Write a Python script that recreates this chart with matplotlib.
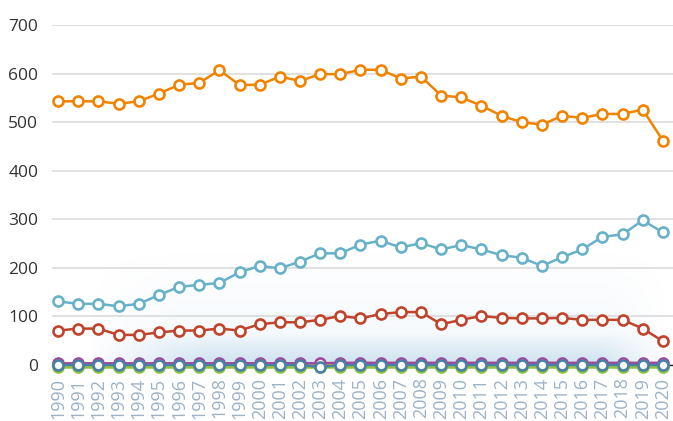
import numpy as np
import matplotlib
matplotlib.use("Agg")
import matplotlib.pyplot as plt
from matplotlib.colors import to_rgb

years = list(range(1990, 2021))

orange = [543, 543, 543, 538, 543, 559, 577, 581, 607, 577, 577, 594, 585, 599, 599,
          608, 608, 590, 594, 555, 551, 534, 513, 500, 495, 513, 509, 517, 517, 526, 462]
cyan = [131, 126, 126, 121, 126, 144, 161, 165, 169, 191, 204, 199, 213, 230, 230,
        248, 256, 242, 251, 238, 247, 238, 226, 221, 204, 222, 238, 264, 269, 298, 273]
red = [71, 75, 75, 62, 62, 67, 71, 71, 75, 71, 84, 88, 88, 93, 101,
       96, 105, 109, 109, 84, 93, 101, 97, 96, 96, 97, 93, 93, 93, 75, 49]
purple = [3.5] * 14 + [4.5] * 17
green = [-4] * 31
yellow = [-1] * 31
steel = [0] * 13 + [-4] + [0] * 17

ytick_values = [0, 100, 200, 300, 400, 500, 600, 700]

series = [
    (yellow, "#f2c200"),
    (green, "#8cc43c"),
    (purple, "#a24a9a"),
    (steel, "#4a7fa6"),
    (red, "#c0432b"),
    (cyan, "#67b1c9"),
    (orange, "#f08300"),
]

plt.rcParams["font.family"] = ["Open Sans", "DejaVu Sans"]

fig = plt.figure(figsize=(6.73, 4.21), dpi=100)
ax = fig.add_axes([0.0773, 0.133, 0.9227, 0.8074])
ax.set_xlim(1989.7, 2020.5)
ax.set_ylim(0, 700)

# soft blue backdrop behind the lower series
ny, nx = 120, 300
gx = np.linspace(0, 1, nx)
gy = np.linspace(0, 1, ny)
X, Y = np.meshgrid(gx, gy)
band = np.clip((0.95 - Y) / 0.95, 0, 1) ** 1.3
edge = np.clip(np.minimum(X / 0.15, (1 - X) / 0.1), 0, 1)
alpha = 0.13 * band * edge
low = np.clip((0.24 - Y) / 0.24, 0, 1) ** 0.7 * np.clip(np.minimum(X / 0.2, (1 - X) / 0.12), 0, 1)
alpha = np.clip(alpha + 0.30 * low, 0, 1)
img = np.zeros((ny, nx, 4))
img[..., :3] = to_rgb("#8fbfdc")
img[..., 3] = alpha
ax.imshow(img, extent=(1991.5, 2020.3, 0, 260), origin="lower", aspect="auto",
          zorder=0.5, interpolation="bilinear")

for vals, col in series:
    ax.plot(years, vals, color=col, lw=1.8, marker="o", ms=7.2, mfc="white",
            mec=col, mew=1.9, clip_on=False, zorder=3)

ax.set_yticks(ytick_values)
ax.set_yticklabels([str(v) for v in ytick_values])
ax.grid(axis="y", color="#d8d8d8", lw=1.1)
ax.set_axisbelow(True)
for s in ["top", "right", "left"]:
    ax.spines[s].set_visible(False)
ax.spines["bottom"].set_color("#222222")
ax.spines["bottom"].set_linewidth(1.0)
ax.spines["bottom"].set_zorder(2)

ax.set_xticks(years)
ax.set_xticklabels([str(y) for y in years], rotation=90, color="#9db2c7",
                   fontsize=13)
ax.tick_params(axis="x", length=3, width=1, color="#222222", pad=6)
ax.tick_params(axis="y", length=0, pad=10, labelsize=12.5, labelcolor="#333333")

fig.savefig("out.png", dpi=100)
